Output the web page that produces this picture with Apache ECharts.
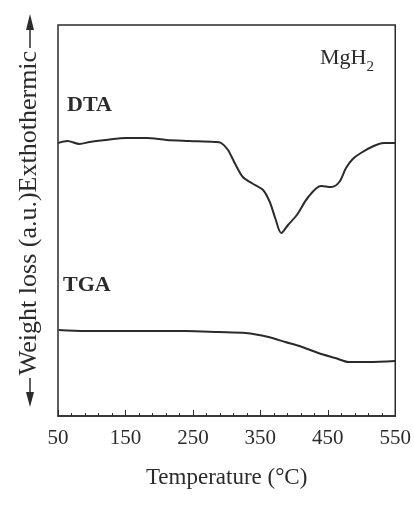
<!DOCTYPE html>
<html>
<head>
<meta charset="utf-8">
<script src="https://cdn.jsdelivr.net/npm/echarts@6/dist/echarts.min.js"></script>
<style>
  html, body { margin: 0; padding: 0; background: #fff; }
  #chart { width: 414px; height: 508px; }
</style>
</head>
<body>
<div id="chart"></div>
<script>
// temperature (°C) / signal (a.u.)
const dtaTemp = [50, 64, 82, 97, 121, 151, 181, 211, 245, 282, 292, 302, 312, 324, 337, 354, 364, 372, 381, 391, 404, 421, 440, 455, 467, 477, 487, 499, 518, 533, 550]
const dtaSignal = [273, 275, 272, 274, 276, 278, 278, 276, 275, 274, 273, 266, 253, 239, 233, 226, 214, 198, 183, 191, 201, 219, 230, 229, 234, 248, 257, 263, 270, 273, 273]
const tgaTemp = [51, 90, 165, 239, 288, 328, 362, 387, 412, 436, 461, 481, 511, 550]
const tgaSignal = [86, 85, 85, 85, 84, 83, 79, 74, 69, 63, 58, 54, 54, 55]
const xTicks = [50, 150, 250, 350, 450, 550]

const serif = '"Liberation Serif", "DejaVu Serif", serif'
const ink = '#2b2b2b'

function zip(xs, ys) {
  return xs.map((x, i) => [x, ys[i]])
}

const chartDom = document.getElementById('chart')
const myChart = echarts.init(chartDom)

// y-axis caption with arrow at each end
const arrowX = 30
const yCaption = [
  {
    type: 'text',
    x: arrowX - 1,
    y: 213,
    rotation: Math.PI / 2,
    style: {
      text: 'Weight loss (a.u.)Exthothermic',
      font: '26px ' + serif,
      fill: ink,
      align: 'center',
      verticalAlign: 'middle',
    },
  },
  { type: 'line', shape: { x1: arrowX, y1: 48, x2: arrowX, y2: 26 }, style: { stroke: ink, lineWidth: 1.5 } },
  { type: 'polygon', shape: { points: [[arrowX - 4, 30], [arrowX + 4, 30], [arrowX, 14]] }, style: { fill: ink } },
  { type: 'line', shape: { x1: arrowX, y1: 378, x2: arrowX, y2: 398 }, style: { stroke: ink, lineWidth: 1.5 } },
  { type: 'polygon', shape: { points: [[arrowX - 4, 392], [arrowX + 4, 392], [arrowX, 407]] }, style: { fill: ink } },
]

const option = {
  animation: false,
  grid: {
    left: 58,
    right: 17,
    top: 25,
    bottom: 92,
    show: true,
    borderColor: ink,
    borderWidth: 1.5,
  },
  xAxis: {
    type: 'value',
    min: 50,
    max: 550,
    interval: 100,
    name: 'Temperature (°C)',
    nameLocation: 'middle',
    nameGap: 50,
    nameTextStyle: { fontFamily: serif, fontSize: 23, color: ink },
    axisLine: { lineStyle: { color: ink, width: 1.5 } },
    axisTick: { inside: true, length: 6, lineStyle: { color: ink } },
    minorTick: { show: true, splitNumber: 5, length: 3, lineStyle: { color: ink } },
    splitLine: { show: false },
    axisLabel: {
      margin: 12,
      fontFamily: serif,
      fontSize: 21,
      color: ink,
      formatter: (v) => (xTicks.includes(v) ? String(v) : ''),
    },
  },
  yAxis: {
    type: 'value',
    min: 0,
    max: 391,
    axisLine: { show: false },
    axisTick: { show: false },
    axisLabel: { show: false },
    splitLine: { show: false },
  },
  series: [
    {
      name: 'DTA',
      type: 'line',
      data: zip(dtaTemp, dtaSignal),
      smooth: 0.3,
      showSymbol: false,
      lineStyle: { color: ink, width: 2 },
    },
    {
      name: 'TGA',
      type: 'line',
      data: zip(tgaTemp, tgaSignal),
      smooth: 0.3,
      showSymbol: false,
      lineStyle: { color: ink, width: 2 },
    },
  ],
  graphic: [
    {
      type: 'text',
      left: 67,
      top: 94,
      style: { text: 'DTA', font: 'bold 22px ' + serif, fill: ink },
    },
    {
      type: 'text',
      left: 63,
      top: 274,
      style: { text: 'TGA', font: 'bold 22px ' + serif, fill: ink },
    },
    {
      type: 'text',
      left: 320,
      top: 47,
      style: {
        text: '{a|MgH}{b|2}',
        rich: {
          a: { fontFamily: serif, fontSize: 22, fill: ink, color: ink, verticalAlign: 'bottom' },
          b: { fontFamily: serif, fontSize: 15, fill: ink, color: ink, verticalAlign: 'bottom', padding: [0, 0, -6, 0] },
        },
      },
    },
  ].concat(yCaption),
}

option && myChart.setOption(option)
</script>
</body>
</html>
